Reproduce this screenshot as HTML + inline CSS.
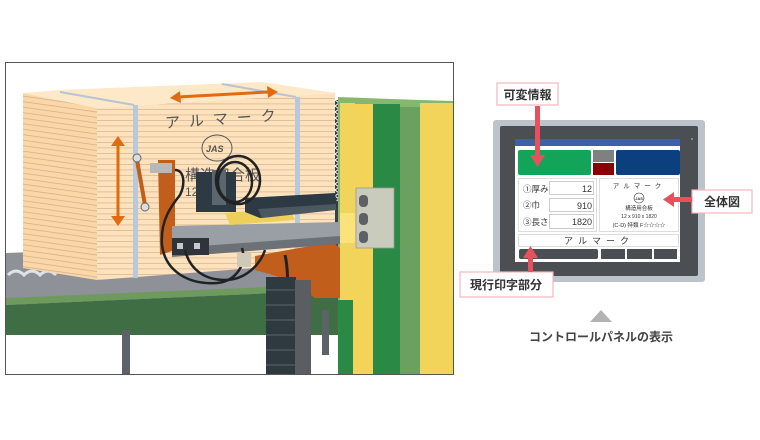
<!DOCTYPE html>
<html><head><meta charset="utf-8"><style>
body{margin:0;background:#fff;width:760px;height:440px;overflow:hidden}
svg{display:block}
text{font-family:"Liberation Sans","Noto Sans CJK JP",sans-serif}
</style></head><body>
<svg width="760" height="440" viewBox="0 0 760 440" xmlns="http://www.w3.org/2000/svg">
<defs>
<pattern id="ply" width="10" height="5.5" patternUnits="userSpaceOnUse">
<rect width="10" height="5.5" fill="#fde2bc"/><rect y="4.5" width="10" height="0.8" fill="#d9b89a"/>
</pattern>
<pattern id="plyL" width="10" height="5.5" patternUnits="userSpaceOnUse" patternTransform="skewY(8)">
<rect width="10" height="5.5" fill="#fbd7a8"/><rect y="4.5" width="10" height="0.8" fill="#d4b08e"/>
</pattern>
<clipPath id="fr"><rect x="6" y="63" width="447" height="311"/></clipPath>
</defs>
<g clip-path="url(#fr)">
<rect x="6" y="63" width="447" height="311" fill="#fff"/>
<polygon points="6,253 340,240 340,290 6,305" fill="#8e9197"/>
<polygon points="6,298 340,284 340,290 6,305" fill="#6f9a5e"/>
<polygon points="6,305 340,290 340,335 6,335" fill="#3f6e44"/>
<rect x="122" y="330" width="8" height="44" fill="#5d6168"/>
<rect x="322" y="310" width="7" height="45" fill="#5d6168"/>
<path d="M8,275 q8,-8 16,0 q8,-8 16,0 q8,-8 16,0" stroke="#dfe2e6" stroke-width="3" fill="none"/>
<polygon points="23,93 97,108 97,280 23,268" fill="url(#plyL)"/>
<polygon points="97,108 335,93 335,262 97,280" fill="url(#ply)"/>
<polygon points="23,93 60,90 262,82 335,93 97,108" fill="#fde8c8"/>
<line x1="60" y1="92" x2="134" y2="105" stroke="#b7c4d4" stroke-width="2"/>
<line x1="222" y1="84" x2="296" y2="97" stroke="#b7c4d4" stroke-width="2"/>
<rect x="133" y="105" width="5" height="173" fill="#b7c9dc"/>
<rect x="295" y="97" width="5" height="165" fill="#b7c9dc"/>
<text x="165" y="125" font-size="15" fill="#555" letter-spacing="9" transform="rotate(-4 210 120)">アルマーク</text>
<ellipse cx="217" cy="148" rx="15" ry="13" fill="none" stroke="#555" stroke-width="1"/>
<text x="206" y="152" font-size="9" fill="#555" font-style="italic" font-weight="bold">JAS</text>
<text x="185" y="180" font-size="15" fill="#555">構造用合板</text>
<text x="185" y="196" font-size="12" fill="#555">12 x</text>
<g stroke="#e26a10" stroke-width="3" fill="#e26a10">
<line x1="178" y1="97" x2="268" y2="92"/>
<polygon points="170,98 180,91 181,103" stroke="none"/>
<polygon points="278,92 267,86 268,98" stroke="none"/>
<line x1="118" y1="144" x2="118" y2="218"/>
<polygon points="118,136 111,146 125,146" stroke="none"/>
<polygon points="118,226 111,216 125,216" stroke="none"/>
</g>
<rect x="335" y="100" width="12" height="152" fill="#3c3f44"/>
<path d="M335,100 l4,3 -4,3 4,3 -4,3 4,3 -4,3 4,3 -4,3 4,3 -4,3 4,3 -4,3 4,3 -4,3 4,3 -4,3 4,3 -4,3 4,3 -4,3 4,3 -4,3 4,3 -4,3 4,3 -4,3 4,3 -4,3 4,3 -4,3 4,3 -4,3 4,3 -4,3" fill="none" stroke="#fff" stroke-width="1"/>
<polygon points="338,97 420,100 453,101 453,374 338,374" fill="#86b76e"/>
<rect x="340" y="103" width="15" height="271" fill="#f0d45c"/>
<rect x="340" y="213" width="15" height="30" fill="#fbe27a"/>
<rect x="355" y="104" width="18" height="270" fill="#f3d458"/>
<rect x="373" y="104" width="27" height="270" fill="#2a8944"/>
<rect x="400" y="107" width="20" height="267" fill="#6aa161"/>
<rect x="420" y="103" width="33" height="271" fill="#f2d45a"/>
<rect x="338" y="300" width="15" height="74" fill="#2a8944"/>
<rect x="356" y="188" width="38" height="60" fill="#c9cbbd" stroke="#999" stroke-width="0.8"/>
<rect x="359" y="195" width="9" height="12" rx="4" fill="#5e6066"/>
<rect x="359" y="213" width="9" height="12" rx="4" fill="#5e6066"/>
<rect x="359" y="231" width="9" height="12" rx="4" fill="#5e6066"/>
<polygon points="158,160 175,160 175,250 160,255" fill="#c25e1c"/>
<polygon points="255,256 310,246 330,240 340,248 340,298 315,298 290,280 255,270" fill="#c25e1c"/>
<polygon points="172,226 340,222 340,238 172,252" fill="#9a9ea5"/>
<polygon points="172,248 340,236 340,244 172,257" fill="#6c7077"/>
<rect x="172" y="238" width="37" height="17" fill="#2f343a"/>
<rect x="177" y="243" width="6" height="6" fill="#c5c8cc"/>
<rect x="194" y="243" width="6" height="6" fill="#c5c8cc"/>
<polygon points="225,213 290,208 295,220 230,225" fill="#ecd05a"/>
<polygon points="245,198 335,193 338,208 260,218 245,212" fill="#2d3a44"/>
<polygon points="258,209 336,204 336,210 262,218" fill="#4b5862"/>
<rect x="196" y="172" width="40" height="40" fill="#2d3a44"/>
<rect x="212" y="170" width="14" height="35" fill="#5b6670"/>
<g fill="none" stroke="#1f2326" stroke-width="2.5">
<ellipse cx="238" cy="180" rx="22" ry="24"/>
<ellipse cx="235" cy="182" rx="17" ry="20"/>
<path d="M175,170 c10,0 10,15 5,25 c-8,10 -20,25 -18,50 c3,25 25,40 55,38 c20,-2 30,-20 25,-35"/>
<path d="M185,250 c5,20 20,30 40,30 c20,0 35,-15 40,-30"/>
<path d="M285,255 c5,20 2,60 0,120" stroke-width="3"/>
</g>
<rect x="266" y="277" width="30" height="97" fill="#2f3a40"/>
<g stroke="#596670" stroke-width="1"><line x1="266" y1="290" x2="296" y2="290"/><line x1="266" y1="305" x2="296" y2="305"/><line x1="266" y1="320" x2="296" y2="320"/><line x1="266" y1="335" x2="296" y2="335"/><line x1="266" y1="350" x2="296" y2="350"/><line x1="266" y1="365" x2="296" y2="365"/></g>
<rect x="295" y="280" width="16" height="94" fill="#5a5e63"/>
<rect x="237" y="253" width="14" height="14" fill="#cfc9b8"/>
<line x1="137" y1="160" x2="145" y2="205" stroke="#c25e1c" stroke-width="4"/>
<circle cx="137" cy="158" r="4" fill="#ddd" stroke="#666"/>
<circle cx="145" cy="207" r="4" fill="#ddd" stroke="#666"/>
<rect x="150" y="163" width="22" height="10" fill="#b8b8b8"/>
</g>
<rect x="5.5" y="62.5" width="448" height="312" fill="none" stroke="#555" stroke-width="1"/>

<rect x="493" y="120" width="212" height="162" rx="3" fill="#bcc3cb"/>
<rect x="500" y="126" width="198" height="150" rx="2" fill="#4b4e53"/>
<circle cx="692" cy="139" r="1" fill="#5c5"/>
<rect x="515" y="139" width="165" height="123" fill="#fff"/>
<rect x="515" y="139" width="165" height="7" fill="#3e5fa9"/>
<rect x="518" y="150" width="73" height="25" rx="2" fill="#12a55a"/>
<rect x="593" y="150" width="21" height="12" fill="#808080"/>
<rect x="593" y="163" width="21" height="12" fill="#8a0000"/>
<rect x="616" y="150" width="64" height="25" rx="2" fill="#0c3f7e"/>
<rect x="518.5" y="178.5" width="78" height="53" fill="none" stroke="#ddd"/>
<rect x="599.5" y="178.5" width="79" height="53" fill="none" stroke="#ddd"/>
<g font-size="8.5" fill="#333">
<text x="523" y="192">①厚み</text><text x="523" y="208">②巾</text><text x="523" y="225">③長さ</text>
</g>
<g fill="none" stroke="#ccc"><rect x="549.5" y="181.5" width="44" height="13"/><rect x="549.5" y="198.5" width="44" height="13"/><rect x="549.5" y="214.5" width="44" height="14"/></g>
<g font-size="9" fill="#333" text-anchor="end"><text x="592" y="192">12</text><text x="592" y="209">910</text><text x="592" y="225">1820</text></g>
<text x="639" y="188" font-size="6.5" fill="#333" text-anchor="middle" letter-spacing="4">アルマーク</text>
<circle cx="639" cy="198" r="5" fill="none" stroke="#333" stroke-width="0.6"/>
<text x="639" y="200" font-size="4" fill="#333" text-anchor="middle" font-weight="bold">JAS</text>
<text x="639" y="210" font-size="5.5" fill="#333" text-anchor="middle">構造用合板</text>
<text x="639" y="218" font-size="5" fill="#333" text-anchor="middle">12 x 910 x 1820</text>
<text x="639" y="227" font-size="5.5" fill="#333" text-anchor="middle">(C-D)  特類  F☆☆☆☆</text>
<rect x="518.5" y="234.5" width="160" height="12" fill="none" stroke="#ddd"/>
<text x="599" y="244" font-size="9" fill="#333" text-anchor="middle" letter-spacing="5">アルマーク</text>
<rect x="519" y="249" width="79" height="10" rx="2" fill="#4b4e53"/>
<rect x="601" y="249" width="24" height="10" fill="#4b4e53"/>
<rect x="627" y="249" width="25" height="10" fill="#4b4e53"/>
<rect x="654" y="249" width="23" height="10" fill="#4b4e53"/>

<rect x="497" y="83" width="61" height="22" fill="#fff" stroke="#f2b6bd" stroke-width="1.2"/>
<text x="527.5" y="99" font-size="12" font-weight="bold" fill="#333" text-anchor="middle">可変情報</text>
<rect x="535" y="106" width="5" height="50" fill="#e9505e"/>
<polygon points="530,155 545,155 537.5,167" fill="#e9505e"/>

<rect x="692" y="190" width="60" height="23" fill="#fff" stroke="#f2b6bd" stroke-width="1.2"/>
<text x="722" y="206" font-size="12" font-weight="bold" fill="#333" text-anchor="middle">全体図</text>
<rect x="673" y="197" width="19" height="5" fill="#e9505e"/>
<polygon points="674,192 674,207 663,199.5" fill="#e9505e"/>

<rect x="460" y="272" width="93" height="25" fill="#fff" stroke="#f2b6bd" stroke-width="1.2"/>
<text x="506" y="289" font-size="12" font-weight="bold" fill="#333" text-anchor="middle">現行印字部分</text>
<rect x="528" y="257" width="5" height="15" fill="#e9505e"/>
<polygon points="523,258 538,258 530.5,246" fill="#e9505e"/>

<polygon points="590,322 612,322 601,310" fill="#b3b3b3"/>
<text x="601" y="341" font-size="12" font-weight="bold" fill="#444" text-anchor="middle">コントロールパネルの表示</text>
</svg>
</body></html>
